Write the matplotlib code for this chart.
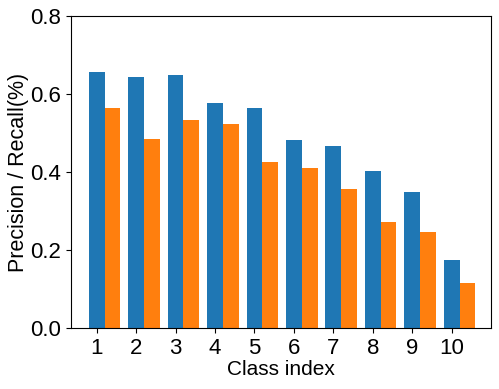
import matplotlib
matplotlib.use("Agg")
import matplotlib.pyplot as plt
import numpy as np

plt.rcParams["font.family"] = ["Liberation Sans", "DejaVu Sans"]

classes = [1, 2, 3, 4, 5, 6, 7, 8, 9, 10]
precision = [0.655, 0.644, 0.647, 0.577, 0.565, 0.483, 0.466, 0.402, 0.348, 0.174]
recall = [0.564, 0.484, 0.534, 0.524, 0.425, 0.410, 0.356, 0.273, 0.246, 0.115]

x = np.array(classes)
width = 0.4

fig = plt.figure(figsize=(4.99, 3.89), dpi=100)
ax = fig.add_axes([71 / 499, 1 - 328.3 / 389, (490.7 - 71) / 499, (328.3 - 15.7) / 389])

ax.bar(x, precision, width, color="#1f77b4")
ax.bar(x + width, recall, width, color="#ff7f0e")

ax.set_xlim(0.35, 10.99)
ax.set_ylim(0, 0.8)
ax.set_xticks(x)
ax.set_xticklabels([str(c) for c in classes])
ax.set_yticks([0.0, 0.2, 0.4, 0.6, 0.8])
ax.tick_params(labelsize=16)
ax.set_xlabel("Class index", fontsize=15, labelpad=1)
ax.set_ylabel("Precision / Recall(%)", fontsize=15.5, labelpad=1)

fig.savefig("out.png", dpi=100)
plt.close(fig)
